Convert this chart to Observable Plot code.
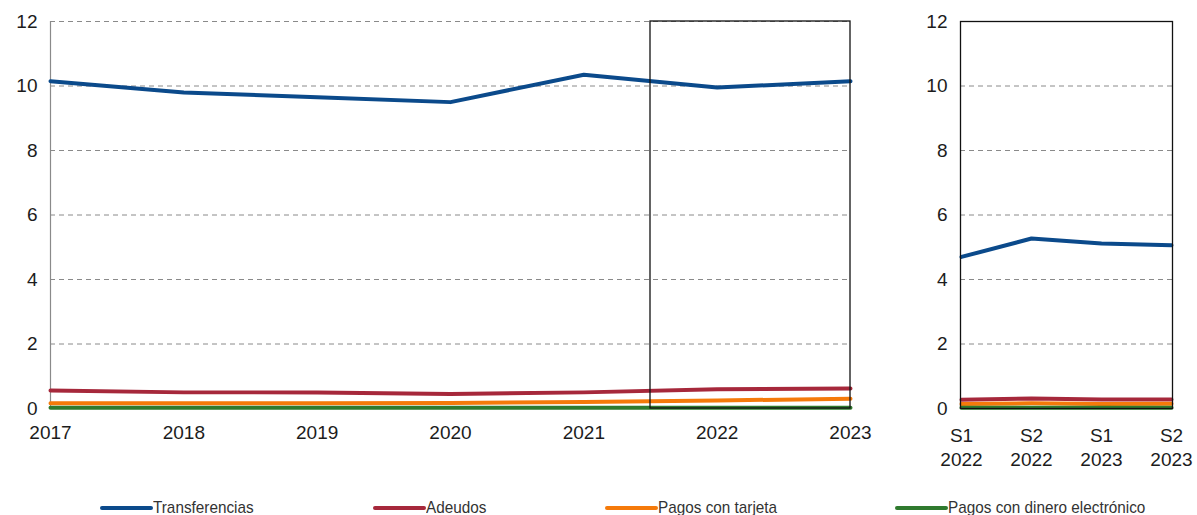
<!DOCTYPE html>
<html>
<head>
<meta charset="utf-8">
<script src="https://cdn.jsdelivr.net/npm/d3@7"></script>
<script src="https://cdn.jsdelivr.net/npm/@observablehq/plot@0.6"></script>
<style>
  html, body { margin: 0; padding: 0; background: #fff; }
  #wrap { position: relative; width: 1197px; height: 515px; font-family: "Liberation Sans", Arial, sans-serif; }
  #left { position: absolute; left: 0; top: 0; }
  #right { position: absolute; left: 880px; top: 0; }
  #legend { position: absolute; left: 0; top: 497px; width: 1197px; height: 22px;
            font-family: "Liberation Sans", Arial, sans-serif; font-size: 17px; color: #333; }
  .item { position: absolute; top: 0; height: 22px; display: flex; align-items: center; white-space: nowrap; }
  .sw { display: inline-block; width: 53px; height: 4px; border-radius: 2px; }
  .tx { display: inline-block; transform: scaleX(0.9); transform-origin: left center; }
</style>
</head>
<body>
<div id="wrap">
  <div id="left"></div>
  <div id="right"></div>
  <div id="legend"></div>
</div>
<script>
// ---- data ----
const seriesNames = ["Transferencias", "Adeudos", "Pagos con tarjeta", "Pagos con dinero electrónico"];
const seriesColors = ["#0b4a8b", "#a6283b", "#f57a0a", "#2f7a2e"];

const years = [2017, 2018, 2019, 2020, 2021, 2022, 2023];
const transferenciasAnual = [10.15, 9.8, 9.65, 9.5, 10.35, 9.95, 10.15];
const adeudosAnual        = [0.56, 0.5, 0.5, 0.45, 0.5, 0.6, 0.62];
const tarjetaAnual        = [0.16, 0.16, 0.16, 0.17, 0.2, 0.25, 0.3];
const dineroAnual         = [0.02, 0.02, 0.02, 0.02, 0.02, 0.02, 0.02];

const semesters = ["S1\n2022", "S2\n2022", "S1\n2023", "S2\n2023"];
const transferenciasSem = [4.7, 5.27, 5.12, 5.06];
const adeudosSem        = [0.27, 0.31, 0.28, 0.28];
const tarjetaSem        = [0.14, 0.16, 0.14, 0.15];
const dineroSem         = [0.02, 0.02, 0.02, 0.02];

const yTicks = [0, 2, 4, 6, 8, 10, 12];
const gridTicks = [2, 4, 6, 8, 10, 12];
const highlight = [{from: 2021.5, to: 2023, y1: 0, y2: 12}];

// ---- build tables ----
const annualSeries = [transferenciasAnual, adeudosAnual, tarjetaAnual, dineroAnual];
const semSeries = [transferenciasSem, adeudosSem, tarjetaSem, dineroSem];
const annual = [];
annualSeries.forEach((arr, i) => arr.forEach((v, j) => annual.push({serie: seriesNames[i], x: years[j], y: v})));
const sem = [];
semSeries.forEach((arr, i) => arr.forEach((v, j) => sem.push({serie: seriesNames[i], x: semesters[j], y: v})));

const color = {domain: seriesNames, range: seriesColors};
const fontSize = 19;
const textColor = "#1c1c1c";

// ---- left chart ----
const left = Plot.plot({
  width: 880, height: 475,
  marginLeft: 50, marginRight: 30, marginTop: 21, marginBottom: 67,
  style: {fontFamily: "Liberation Sans, Arial, sans-serif", fontSize: fontSize + "px", color: textColor, background: "#fff"},
  x: {domain: [2017, 2023], label: null},
  y: {domain: [0, 12], label: null},
  color,
  marks: [
    Plot.ruleY(gridTicks, {stroke: "#8a8a8a", strokeDasharray: "5,4", strokeWidth: 1}),
    Plot.ruleX([2017], {stroke: "#8a8a8a", strokeWidth: 1.2}),
    Plot.ruleY([0], {stroke: "#8a8a8a", strokeWidth: 1}),
    Plot.axisY({ticks: yTicks, tickSize: 0, tickPadding: 13, tickFormat: d => String(d), fill: textColor, label: null}),
    Plot.axisX({ticks: years, tickSize: 0, tickPadding: 17, tickFormat: d => String(d), fill: textColor, label: null}),
    Plot.line(annual, {x: "x", y: "y", stroke: "serie", z: "serie", strokeWidth: 4, curve: "linear"}),
    Plot.rect(highlight, {x1: "from", x2: "to", y1: "y1", y2: "y2", fill: "none", stroke: "#111", strokeWidth: 1.3})
  ]
});
document.getElementById("left").appendChild(left);

// ---- right chart ----
const right = Plot.plot({
  width: 317, height: 475,
  marginLeft: 80, marginRight: 25, marginTop: 21, marginBottom: 67,
  style: {fontFamily: "Liberation Sans, Arial, sans-serif", fontSize: fontSize + "px", color: textColor, background: "#fff"},
  x: {type: "point", domain: semesters, padding: 0, label: null},
  y: {domain: [0, 12], label: null},
  color,
  marks: [
    Plot.ruleY(gridTicks.filter(d => d < 12), {stroke: "#8a8a8a", strokeDasharray: "5,4", strokeWidth: 1}),
    Plot.axisY({ticks: yTicks, tickSize: 0, tickPadding: 13, tickFormat: d => String(d), fill: textColor, label: null}),
    Plot.axisX({tickSize: 0, tickPadding: 17, lineHeight: 1.25, fill: textColor, label: null}),
    Plot.line(sem, {x: "x", y: "y", stroke: "serie", z: "serie", strokeWidth: 4}),
    Plot.frame({stroke: "#111", strokeWidth: 1.3})
  ]
});
document.getElementById("right").appendChild(right);

// ---- legend ----
const legendLeft = [100, 373, 605, 895];
const legend = document.getElementById("legend");
seriesNames.forEach((name, i) => {
  const it = document.createElement("div");
  it.className = "item";
  it.style.left = legendLeft[i] + "px";
  const sw = document.createElement("span");
  sw.className = "sw";
  sw.style.background = seriesColors[i];
  const tx = document.createElement("span");
  tx.className = "tx";
  tx.textContent = name;
  it.appendChild(sw); it.appendChild(tx);
  legend.appendChild(it);
});
</script>
</body>
</html>
